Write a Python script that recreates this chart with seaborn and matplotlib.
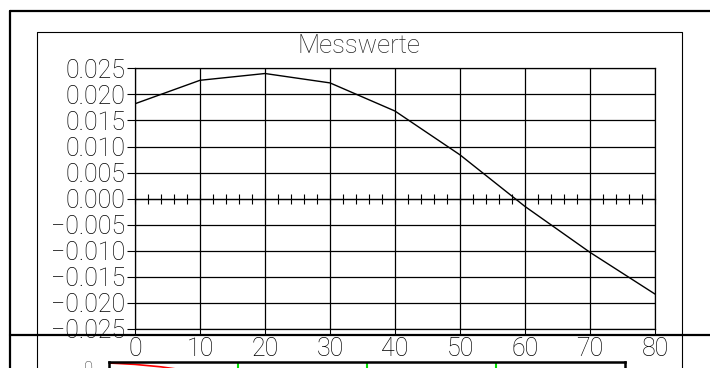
import matplotlib
matplotlib.use("Agg")
import matplotlib.pyplot as plt
import pandas as pd
import seaborn as sns

x_werte = [0, 10, 20, 30, 40, 50, 60, 70, 80]
y_werte = [0.0182, 0.0227, 0.0240, 0.0222, 0.0168, 0.0084, -0.0015, -0.0103, -0.0183]

x_ticks = [0, 10, 20, 30, 40, 50, 60, 70, 80]
y_ticks = [0.025, 0.020, 0.015, 0.010, 0.005, 0.000,
           -0.005, -0.010, -0.015, -0.020, -0.025]
y_labels = ["0.025", "0.020", "0.015", "0.010", "0.005", "0.000",
            "\u22120.005", "\u22120.010", "\u22120.015", "\u22120.020", "\u22120.025"]
minor_ticks = list(range(0, 81, 2))

# the second window, mostly hidden below the first one
x_unten = [0, 0.2, 0.4, 0.6, 0.8, 1.0]
y_unten = [0.995, 0.988, 0.976, 0.958, 0.935, 0.905]
gitter_unten = [1, 2, 3]

sns.set_style("white")
plt.rcParams["font.family"] = ["Roboto", "DejaVu Sans"]
plt.rcParams["font.weight"] = "light"

W, H = 710, 368
fig = plt.figure(figsize=(W / 100, H / 100), dpi=100)

# window frames drawn in pixel coordinates
bg = fig.add_axes([0, 0, 1, 1], zorder=0)
bg.set_xlim(0, W)
bg.set_ylim(H, 0)
bg.axis("off")
bg.plot([9.5, W], [10.5, 10.5], color="black", lw=1.6)
bg.plot([9.5, 9.5], [10.5, H], color="black", lw=1.6)
bg.plot([36.5, 36.5, 681.5, 681.5], [H, 31.5, 31.5, H], color="black", lw=0.8)
bg.plot([9.5, W], [334.5, 334.5], color="black", lw=1.6)
bg.text(358.5, 53, "Messwerte", ha="center", va="baseline", fontsize=18.5)
bg.text(89, 373, "0", ha="center", va="baseline", fontsize=12)

# main chart
df = pd.DataFrame({"x": x_werte, "y": y_werte})
ax = fig.add_axes([135 / W, (H - 329) / H, 520 / W, (329 - 68.3) / H], zorder=2)
sns.lineplot(data=df, x="x", y="y", ax=ax, color="black", lw=1)
ax.set_xlim(0, 80)
ax.set_ylim(-0.025, 0.025)
ax.set_xticks(x_ticks)
ax.set_xticklabels([str(v) for v in x_ticks])
ax.set_yticks(y_ticks)
ax.set_yticklabels(y_labels)
ax.set_xlabel("")
ax.set_ylabel("")
ax.grid(True, color="black", lw=0.9)
ax.tick_params(axis="both", direction="out", color="black", width=0.8,
               labelsize=18, labelcolor="black", left=True, bottom=True)
ax.tick_params(axis="y", length=6, pad=1)
ax.tick_params(axis="x", length=4, pad=2)
for s in ax.spines.values():
    s.set_color("black")
    s.set_linewidth(0.9)

# small cross ticks along the zero line
ax2 = ax.twiny()
ax2.set_xlim(0, 80)
ax2.spines["bottom"].set_position(("data", 0))
for name in ["top", "left", "right"]:
    ax2.spines[name].set_visible(False)
ax2.spines["bottom"].set_color("black")
ax2.spines["bottom"].set_linewidth(0.9)
ax2.xaxis.set_ticks_position("bottom")
ax2.set_xticks(minor_ticks)
ax2.tick_params(axis="x", direction="inout", length=7, width=0.8, color="black",
                labelbottom=False, labeltop=False, top=False)

# lower window: only its top edge is visible
df2 = pd.DataFrame({"x": x_unten, "y": y_unten})
ax3 = fig.add_axes([109 / W, (H - 562) / H, 516 / W, 200 / H], zorder=1)
sns.lineplot(data=df2, x="x", y="y", ax=ax3, color="red", lw=1.2)
ax3.set_xlim(0, 4)
ax3.set_ylim(0, 1)
for g in gitter_unten:
    ax3.axvline(g, color="#00e000", lw=1.5)
ax3.set_xticks([])
ax3.set_yticks([])
ax3.set_xlabel("")
ax3.set_ylabel("")
for s in ax3.spines.values():
    s.set_color("black")
    s.set_linewidth(1.8)

fig.savefig("out.png", dpi=100)
